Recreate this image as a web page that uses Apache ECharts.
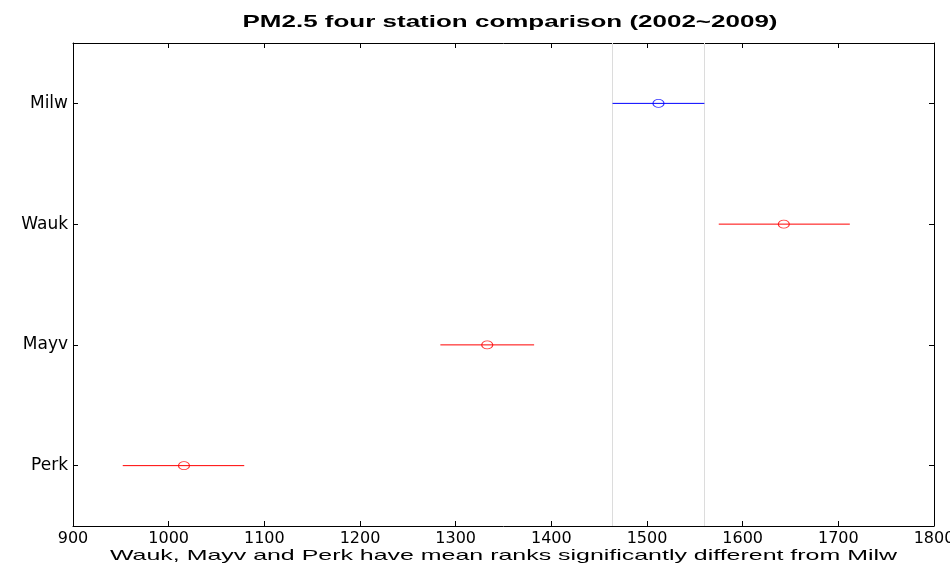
<!DOCTYPE html>
<html>
<head>
<meta charset="utf-8">
<script src="https://cdn.jsdelivr.net/npm/echarts@6/dist/echarts.min.js"></script>
<style>
html,body{margin:0;padding:0;background:#fff;}
#chart{width:950px;height:567px;}
</style>
</head>
<body>
<div id="chart"></div>
<script>
// Data (bottom to top on the category axis)
const stations = ['Perk', 'Mayv', 'Wauk', 'Milw'];
const meanRanks = [1016, 1333, 1643, 1512];
const lowerBounds = [952, 1284, 1575, 1464];
const upperBounds = [1079, 1382, 1712, 1560];
const referenceStation = 'Milw';
const xTicks = [900, 1000, 1100, 1200, 1300, 1400, 1500, 1600, 1700, 1800];
const titleText = 'PM2.5 four station comparison (2002~2009)';
const xLabelText = 'Wauk, Mayv and Perk have mean ranks significantly different from Milw';

const FONT = 'DejaVu Sans';
const SANS = 'Liberation Sans';
const refIdx = stations.indexOf(referenceStation);
const colorFor = (i) => (i === refIdx ? '#0000ff' : '#ff0000');

// horizontal stretch factor so text spans the reference width
const mctx = document.createElement('canvas').getContext('2d');
function stretch(text, font, targetWidth) {
  mctx.font = font;
  return targetWidth / mctx.measureText(text).width;
}
const titleFont = 'bold 17px "' + SANS + '"';
const xLabelFont = '15px "' + SANS + '"';

const chart = echarts.init(document.getElementById('chart'), null, {renderer: 'canvas'});

const barData = stations.map((s, i) => [lowerBounds[i], upperBounds[i], i]);
const pointData = stations.map((s, i) => ({
  value: [meanRanks[i], s],
  itemStyle: {color: 'none', borderColor: colorFor(i), borderWidth: 1}
}));

const axisCommon = {
  axisLine: {show: true, lineStyle: {color: '#000', width: 1}},
  splitLine: {show: false}
};

chart.setOption({
  animation: false,
  backgroundColor: '#fff',
  grid: {left: 73, right: 16, top: 43, bottom: 41, containLabel: false, outerBoundsMode: 'none'},
  graphic: [
    {
      type: 'text', x: 510, y: 22,
      scaleX: stretch(titleText, titleFont, 535),
      style: {text: titleText, font: titleFont, fill: '#000', textAlign: 'center', textVerticalAlign: 'middle'}
    },
    {
      type: 'text', x: 503.5, y: 556,
      scaleX: stretch(xLabelText, xLabelFont, 787),
      style: {text: xLabelText, font: xLabelFont, fill: '#000', textAlign: 'center', textVerticalAlign: 'middle'}
    }
  ],
  xAxis: [
    Object.assign({
      type: 'value', position: 'bottom', min: xTicks[0], max: xTicks[xTicks.length - 1], interval: 100,
      axisTick: {show: true, inside: true, length: 5, lineStyle: {color: '#000'}},
      axisLabel: {margin: 5, fontFamily: FONT, fontSize: 16, color: '#000', formatter: (v) => String(v)}
    }, axisCommon),
    Object.assign({
      type: 'value', position: 'top', min: xTicks[0], max: xTicks[xTicks.length - 1], interval: 100,
      axisTick: {show: true, inside: true, length: 5, lineStyle: {color: '#000'}},
      axisLabel: {show: false}
    }, axisCommon)
  ],
  yAxis: [
    Object.assign({
      type: 'category', position: 'left', data: stations, boundaryGap: true,
      axisTick: {show: true, inside: true, length: 5, alignWithLabel: true, lineStyle: {color: '#000'}},
      axisLabel: {margin: 5, fontFamily: FONT, fontSize: 17, color: '#000'}
    }, axisCommon),
    Object.assign({
      type: 'category', position: 'right', data: stations, boundaryGap: true,
      axisTick: {show: true, inside: true, length: 5, alignWithLabel: true, lineStyle: {color: '#000'}},
      axisLabel: {show: false}
    }, axisCommon)
  ],
  series: [
    {
      type: 'custom',
      xAxisIndex: 0, yAxisIndex: 0,
      data: barData,
      encode: {x: [0, 1], y: 2},
      renderItem: function (params, api) {
        const i = api.value(2);
        const p1 = api.coord([api.value(0), i]);
        const p2 = api.coord([api.value(1), i]);
        return {
          type: 'line',
          shape: {x1: p1[0], y1: p1[1], x2: p2[0], y2: p2[1]},
          style: {stroke: colorFor(i), lineWidth: 1}
        };
      },
      z: 2
    },
    {
      type: 'scatter',
      xAxisIndex: 0, yAxisIndex: 0,
      symbol: 'circle',
      symbolSize: [11, 8],
      data: pointData,
      z: 3,
      markLine: {
        silent: true,
        symbol: ['none', 'none'],
        label: {show: false},
        lineStyle: {color: '#dcdcdc', type: 'solid', width: 1},
        data: [{xAxis: lowerBounds[refIdx]}, {xAxis: upperBounds[refIdx]}],
        z: 1
      }
    }
  ]
});
</script>
</body>
</html>
